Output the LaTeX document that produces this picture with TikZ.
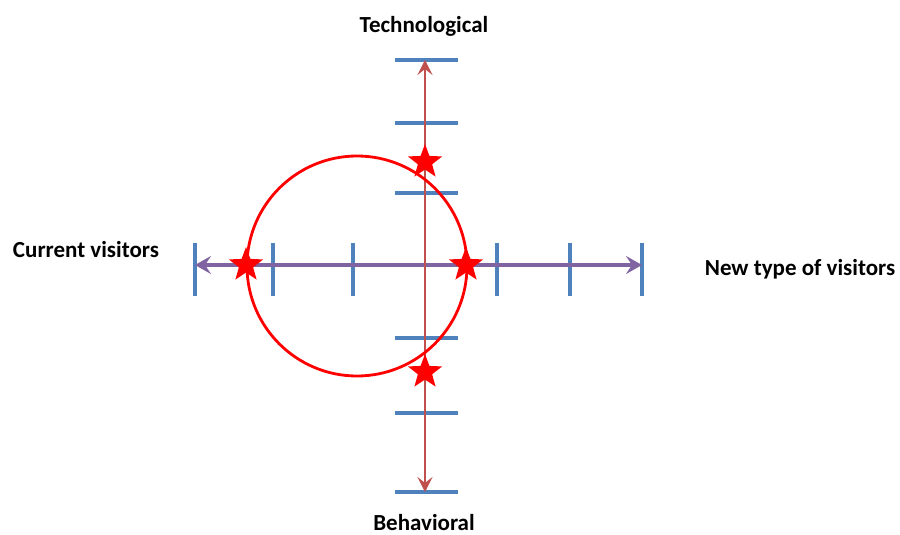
\documentclass[tikz,border=0pt]{standalone}
\usepackage{fontspec}
\setmainfont{Carlito}
\usetikzlibrary{shapes.geometric,arrows.meta}
\definecolor{tickblue}{HTML}{4F81BD}
\definecolor{axred}{HTML}{C0504D}
\definecolor{axpurple}{HTML}{8064A2}
\begin{document}
\begin{tikzpicture}[x=1pt,y=-1pt,
  tick/.style={draw=tickblue,line width=3.5pt},
  staricon/.style={star,star points=5,star point ratio=2.4,fill=red,draw=none,minimum size=36pt,inner sep=0pt},
  lbl/.style={font=\bfseries\fontsize{23}{26}\selectfont,inner sep=0pt},
  tipp/.tip={Stealth[length=16pt,width=18pt,inset=6pt]},
  tipr/.tip={Stealth[length=15pt,width=15pt,inset=6pt]}]
\useasboundingbox (0,0) rectangle (900,535);
% coordinates
\coordinate (hl) at (195,265);
\coordinate (hr) at (642,265);
\coordinate (vt) at (425,60);
\coordinate (vb) at (425,492);
\coordinate (c) at (357,266);
% horizontal ticks
\foreach \x/\n in {195/a,273/b,353/c,497/d,570/e,642/f}{
  \coordinate (ht\n1) at (\x,243);
  \coordinate (ht\n2) at (\x,296);
  \draw[tick] (ht\n1) -- (ht\n2);
}
% vertical ticks
\foreach \y/\n in {60/a,123/b,193/c,338/d,413/e,492/f}{
  \coordinate (vt\n1) at (395,\y);
  \coordinate (vt\n2) at (458,\y);
  \draw[tick] (vt\n1) -- (vt\n2);
}
% axes
\draw[draw=axpurple,line width=3.5pt,tipp-tipp] (hl) -- (hr);
\draw[draw=axred,line width=2.8pt,tipr-tipr] (vb) -- (vt);
% circle
\draw[red,line width=2.8pt] (c) circle[radius=110];
% stars
\node[staricon] (s1) at (246,265) {};
\node[staricon] (s2) at (466,265) {};
\node[staricon] (s3) at (425,162) {};
\node[staricon] (s4) at (425,372) {};
% labels
\node[lbl] (t) at (424,26) {Technological};
\node[lbl] (b) at (424,523) {Behavioral};
\node[lbl] (cv) at (86,250) {Current visitors};
\node[lbl] (nv) at (800,269) {New type of visitors};
\end{tikzpicture}
\end{document}
